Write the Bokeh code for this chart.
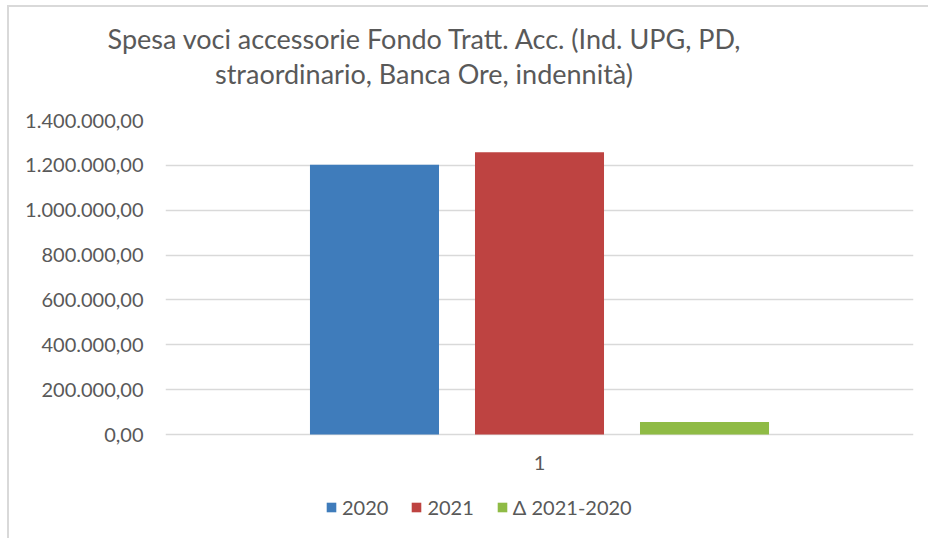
from bokeh.plotting import figure
from bokeh.layouts import column
from bokeh.models import (FactorRange, Range1d, FixedTicker, Legend,
                          LegendItem, ColumnDataSource, Div)
from bokeh.core.properties import value
from bokeh.transform import dodge
from bokeh.embed import file_html
from bokeh.resources import INLINE

# Data
categories = ["1"]
series_names = ["2020", "2021", "\u0394 2021-2020"]
values_2020 = [1203000.0]
values_2021 = [1258500.0]
values_delta = [55500.0]
colors = ["#3F7CBB", "#BE4341", "#8FBB45"]

y_ticks = [0, 200000, 400000, 600000, 800000, 1000000, 1200000, 1400000]
y_tick_labels = ["0,00", "200.000,00", "400.000,00", "600.000,00",
                 "800.000,00", "1.000.000,00", "1.200.000,00", "1.400.000,00"]

title_lines = ["Spesa voci accessorie Fondo Tratt. Acc. (Ind. UPG, PD,",
               "straordinario, Banca Ore, indennit\u00e0)"]

FONT = "Lato"
TEXT_COLOR = "#595959"
GRID_COLOR = "#D9D9D9"

Y_MAX = 1400000
PLOT_PX = 314      # height of the value area in pixels
BELOW_PX = 104     # room under the zero line for the category label and legend

source = ColumnDataSource(dict(cat=categories, v2020=values_2020,
                               v2021=values_2021, vdelta=values_delta,
                               zero=[0]))

# Chart title, two centred lines
title_div = Div(text="<br>".join(title_lines), width=830, height=90, margin=0,
                styles={"font-family": FONT, "font-size": "27px",
                        "color": TEXT_COLOR, "text-align": "center",
                        "line-height": "35px", "padding-top": "14px",
                        "box-sizing": "border-box"})

p = figure(width=919, height=23 + PLOT_PX + BELOW_PX, output_backend="svg",
           toolbar_location=None,
           x_range=FactorRange(factors=categories, range_padding=0),
           y_range=Range1d(-Y_MAX * BELOW_PX / PLOT_PX, Y_MAX),
           min_border_left=156, min_border_right=15,
           min_border_top=23, min_border_bottom=0, margin=0)
p.outline_line_color = None
p.background_fill_color = "white"
p.border_fill_color = "white"

bar_w = 0.1725
offsets = [-0.2206, 0.0, 0.2206]
fields = ["v2020", "v2021", "vdelta"]
renderers = []
for off, fld, col in zip(offsets, fields, colors):
    r = p.vbar(x=dodge("cat", off, range=p.x_range), top=fld, bottom=0,
               width=bar_w, source=source, fill_color=col, line_color=None)
    renderers.append(r)

# Category label under the bars
p.text(x="cat", y="zero", text="cat", source=source, y_offset=28,
       text_align="center", text_baseline="middle", text_font=value(FONT),
       text_font_size="20px", text_color=TEXT_COLOR)

# Axes
p.xaxis.visible = False
p.yaxis.ticker = FixedTicker(ticks=y_ticks)
p.yaxis.major_label_overrides = {t: l for t, l in zip(y_ticks, y_tick_labels)}
yax = p.yaxis[0]
yax.axis_line_color = None
yax.major_tick_line_color = None
yax.minor_tick_line_color = None
yax.major_label_text_font = FONT
yax.major_label_text_font_size = "20px"
yax.major_label_text_color = TEXT_COLOR
yax.major_label_standoff = 16

p.xgrid.grid_line_color = None
p.ygrid.ticker = FixedTicker(ticks=y_ticks)
p.ygrid.grid_line_color = GRID_COLOR
p.ygrid.grid_line_width = 1.5

legend = Legend(items=[LegendItem(label=n, renderers=[r])
                       for n, r in zip(series_names, renderers)],
                orientation="horizontal", location=(160, 19),
                glyph_width=12, glyph_height=12, label_standoff=5, spacing=22,
                padding=0, margin=0,
                label_text_font=FONT, label_text_font_size="20px",
                label_text_color=TEXT_COLOR, border_line_color=None,
                background_fill_alpha=0)
p.add_layout(legend)

page = column(title_div, p, spacing=0, margin=(5, 0, 0, 7),
              styles={"border-left": "2px solid #D9D9D9",
                      "border-top": "2px solid #D9D9D9"})

open("out.html", "w").write(file_html(page, INLINE))
